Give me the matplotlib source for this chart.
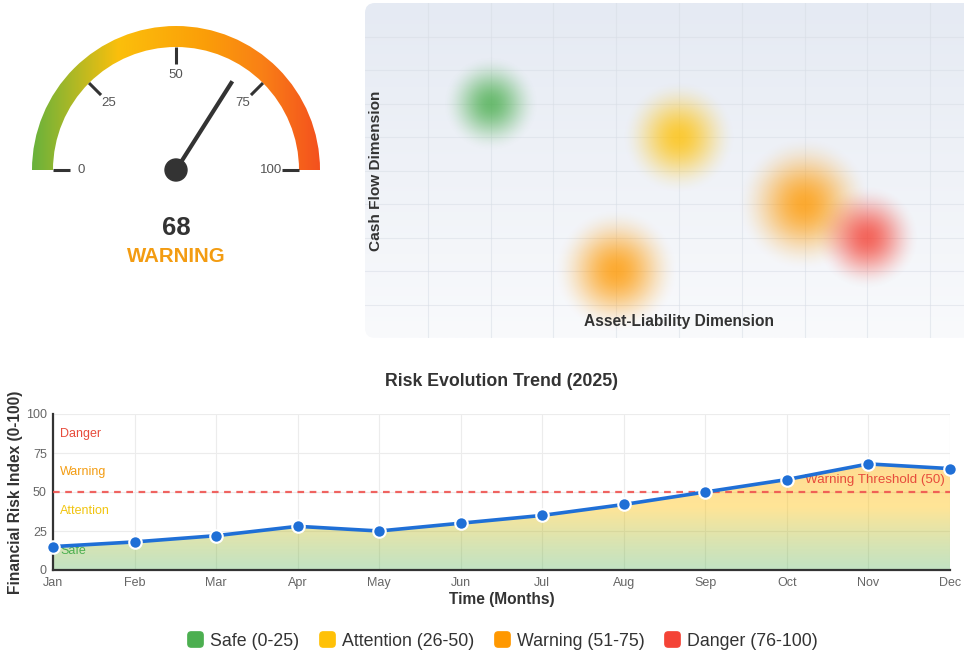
import numpy as np
import matplotlib
matplotlib.use('Agg')
import matplotlib.pyplot as plt
from matplotlib.colors import LinearSegmentedColormap, to_rgb
from matplotlib.patches import Wedge, Circle, FancyBboxPatch, Polygon, BoxStyle
from matplotlib.lines import Line2D

plt.rcParams['font.family'] = ['Liberation Sans', 'DejaVu Sans']

# overall score shown on the gauge
score = 68
status = 'WARNING'
gauge_ticks = [0, 25, 50, 75, 100]

# risk map: asset-liability (x) vs cash flow (y), 0-10 grid
map_x = [2, 5, 4, 7, 8]
map_y = [7, 6, 2, 4, 3]
map_reach = [0.77, 0.91, 1.00, 1.08, 0.84]
map_level = ['Safe', 'Attention', 'Warning', 'Warning', 'Danger']

# monthly trend
months = ['Jan', 'Feb', 'Mar', 'Apr', 'May', 'Jun', 'Jul', 'Aug', 'Sep', 'Oct', 'Nov', 'Dec']
risk = [15, 18, 22, 28, 25, 30, 35, 42, 50, 58, 68, 65]
threshold = 50

zones = ['Safe', 'Attention', 'Warning', 'Danger']
zone_labels = ['Safe (0-25)', 'Attention (26-50)', 'Warning (51-75)', 'Danger (76-100)']
zone_mid = [12.5, 37.5, 62.5, 87.5]
zone_colors = {'Safe': '#4caf50', 'Attention': '#ffc107', 'Warning': '#ff9800', 'Danger': '#f44336'}
zone_text = {'Safe': '#4caf50', 'Attention': '#f1c40f', 'Warning': '#f39c12', 'Danger': '#e74c3c'}

W, H = 964, 657
fig = plt.figure(figsize=(W / 100, H / 100), dpi=100)

# ---------------- gauge ----------------
R = 144.0  # px per gauge unit
ga = fig.add_axes([0, 1 - 290 / H, 352 / W, 290 / H])
gauge_cmap = LinearSegmentedColormap.from_list('gauge', [
    (0.0, '#68b23c'), (0.3, '#fbbf0c'), (0.6, '#fb9e08'), (0.8, '#f98016'), (1.0, '#f4511e')])
im = ga.imshow(np.linspace(0, 1, 256).reshape(1, -1), cmap=gauge_cmap, extent=(-1, 1, 0, 1),
               aspect='auto', interpolation='bicubic')
ring = Wedge((0, 0), 1, 0, 180, width=21 / R, facecolor='none', edgecolor='none')
ga.add_patch(ring)
im.set_clip_path(ring)

for v in gauge_ticks:
    a = np.radians(180 - v * 1.8)
    ga.plot([106 / R * np.cos(a), 123 / R * np.cos(a)], [106 / R * np.sin(a), 123 / R * np.sin(a)],
            color='#333333', lw=2.2, solid_capstyle='butt')
    ga.text(95 / R * np.cos(a), 95 / R * np.sin(a), str(v), ha='center', va='center',
            fontsize=9.5, color='#555555')

a = np.radians(180 - score * 1.8)
ga.plot([0, 0.73 * np.cos(a)], [0, 0.73 * np.sin(a)], color='#333333', lw=3, solid_capstyle='butt')
ga.add_patch(Circle((0, 0), 11 / R, color='#333333', zorder=5))
ga.text(0, -58 / R, str(score), ha='center', va='center', fontsize=18.5, fontweight='bold', color='#333333')
ga.text(0, -86 / R, status, ha='center', va='center', fontsize=14.7, fontweight='bold', color='#f39c12')
ga.set_xlim(-176 / R, 176 / R)
ga.set_ylim(-120 / R, 170 / R)
ga.axis('off')

# ---------------- risk map ----------------
hx0, hx1, hy0, hy1 = 365, 964, 3, 338
hm = fig.add_axes([hx0 / W, 1 - hy1 / H, (hx1 - hx0) / W, (hy1 - hy0) / H])
sx, sy = 62.8, 33.5  # px per grid unit
xmax = (hx1 - hx0) / sx
nx, ny = hx1 - hx0, hy1 - hy0

panel = FancyBboxPatch((0, 0), 10, 10, boxstyle='round,pad=0,rounding_size=0.16',
                       mutation_aspect=sx / sy, facecolor='none', edgecolor='none')
hm.add_patch(panel)
bg_cmap = LinearSegmentedColormap.from_list('bg', ['#f9fafc', '#e5eaf3'])
bg = hm.imshow(np.linspace(0, 1, 256).reshape(-1, 1), cmap=bg_cmap, extent=(0, 10, 0, 10),
               origin='lower', aspect='auto', zorder=0)
bg.set_clip_path(panel)

for k in range(1, 10):
    hm.axvline(k, color='#d8dee6', lw=0.8, alpha=0.55, zorder=1)
    hm.axhline(k, color='#d8dee6', lw=0.8, alpha=0.55, zorder=1)

xs = np.linspace(0, xmax, nx)
ys = np.linspace(0, 10, ny)
X, Y = np.meshgrid(xs, ys)
for bx, by, reach, lvl in zip(map_x, map_y, map_reach, map_level):
    d = np.clip(np.hypot((X - bx) * sx, (Y - by) * sy) / (reach * sx), 0, 1)
    rgba = np.zeros((ny, nx, 4))
    rgba[..., :3] = to_rgb(zone_colors[lvl])
    rgba[..., 3] = 0.8 * (1 - (3 * d ** 2 - 2 * d ** 3))
    hm.imshow(rgba, extent=(0, xmax, 0, 10), origin='lower', aspect='auto', zorder=2,
              interpolation='bilinear')

hm.text(11 / sx, 5.0, 'Cash Flow Dimension', rotation=90, ha='center', va='center',
        fontsize=11.1, fontweight='bold', color='#333333', zorder=3)
hm.text(5.0, 0.5, 'Asset-Liability Dimension', ha='center', va='center',
        fontsize=11.2, fontweight='bold', color='#333333', zorder=3)
hm.set_xlim(0, xmax)
hm.set_ylim(0, 10)
hm.axis('off')

# ---------------- trend chart ----------------
lc = fig.add_axes([53 / W, 87 / H, 897 / W, 156 / H])
x = np.arange(len(months))

stops_y = [0, 40, 100]
stops_c = [(76, 175, 80, 0.34), (255, 193, 7, 0.42), (255, 152, 0, 0.45)]
gy = np.linspace(0, 100, 256)
grad = np.zeros((256, 1, 4))
for c in range(4):
    vals = [s[c] / 255 if c < 3 else s[c] for s in stops_c]
    grad[:, 0, c] = np.interp(gy, stops_y, vals)
area = Polygon(np.column_stack([np.r_[x, x[::-1]], np.r_[risk, np.zeros(len(x))]]),
               closed=True, facecolor='none', edgecolor='none')
lc.add_patch(area)
fill = lc.imshow(grad, extent=(0, 11, 0, 100), origin='lower', aspect='auto', zorder=1)
fill.set_clip_path(area)

lc.axhline(threshold, color='#ef5350', lw=1.6, dashes=(3, 2.5), alpha=0.9, zorder=3)
lc.text(10.94, 57.7, 'Warning Threshold (50)', ha='right', va='center', fontsize=9.6,
        color='#e74c3c', zorder=3)

for z, m in zip(zones, zone_mid):
    lc.text(0.086, m, z, ha='left', va='center', fontsize=9, color=zone_text[z], zorder=2)

lc.plot(x, risk, color='#1f6fd6', lw=2.6, marker='o', ms=9, mfc='#1f6fd6', mec='white',
        mew=1.5, zorder=4, clip_on=False)

lc.set_xlim(0, 11)
lc.set_ylim(0, 100)
lc.set_xticks(x)
lc.set_xticklabels(months)
lc.set_yticks([0, 25, 50, 75, 100])
lc.grid(color='#ececec', lw=0.8, zorder=0)
lc.set_axisbelow(True)
for s in ['top', 'right']:
    lc.spines[s].set_visible(False)
for s in ['left', 'bottom']:
    lc.spines[s].set_color('#333333')
    lc.spines[s].set_linewidth(1.6)
lc.tick_params(axis='x', length=0, labelsize=9, colors='#666666', pad=5)
lc.tick_params(axis='y', length=0, labelsize=9, colors='#666666', pad=4.5)
lc.set_ylabel('Financial Risk Index (0-100)', fontsize=11.2, fontweight='bold', color='#333333', labelpad=2)
lc.set_xlabel('Time (Months)', fontsize=11.2, fontweight='bold', color='#333333', labelpad=2)

fig.text(501 / W, 1 - 382 / H, 'Risk Evolution Trend (2025)', ha='center', va='center',
         fontsize=12.8, fontweight='bold', color='#333333')

# rounded square legend swatches
swatch = BoxStyle.Round(pad=0, rounding_size=0.22)(-0.5, -0.5, 1, 1, 1.0)
handles = [Line2D([], [], marker=swatch, ls='', color=zone_colors[z], markersize=11) for z in zones]
fig.legend(handles, zone_labels, loc='center', bbox_to_anchor=(502 / W, 1 - 641 / H), ncol=4,
           frameon=False, fontsize=12.8, handletextpad=0.35, columnspacing=1.05, handlelength=1.0,
           labelcolor='#333333')

fig.savefig('out.png', dpi=100)
